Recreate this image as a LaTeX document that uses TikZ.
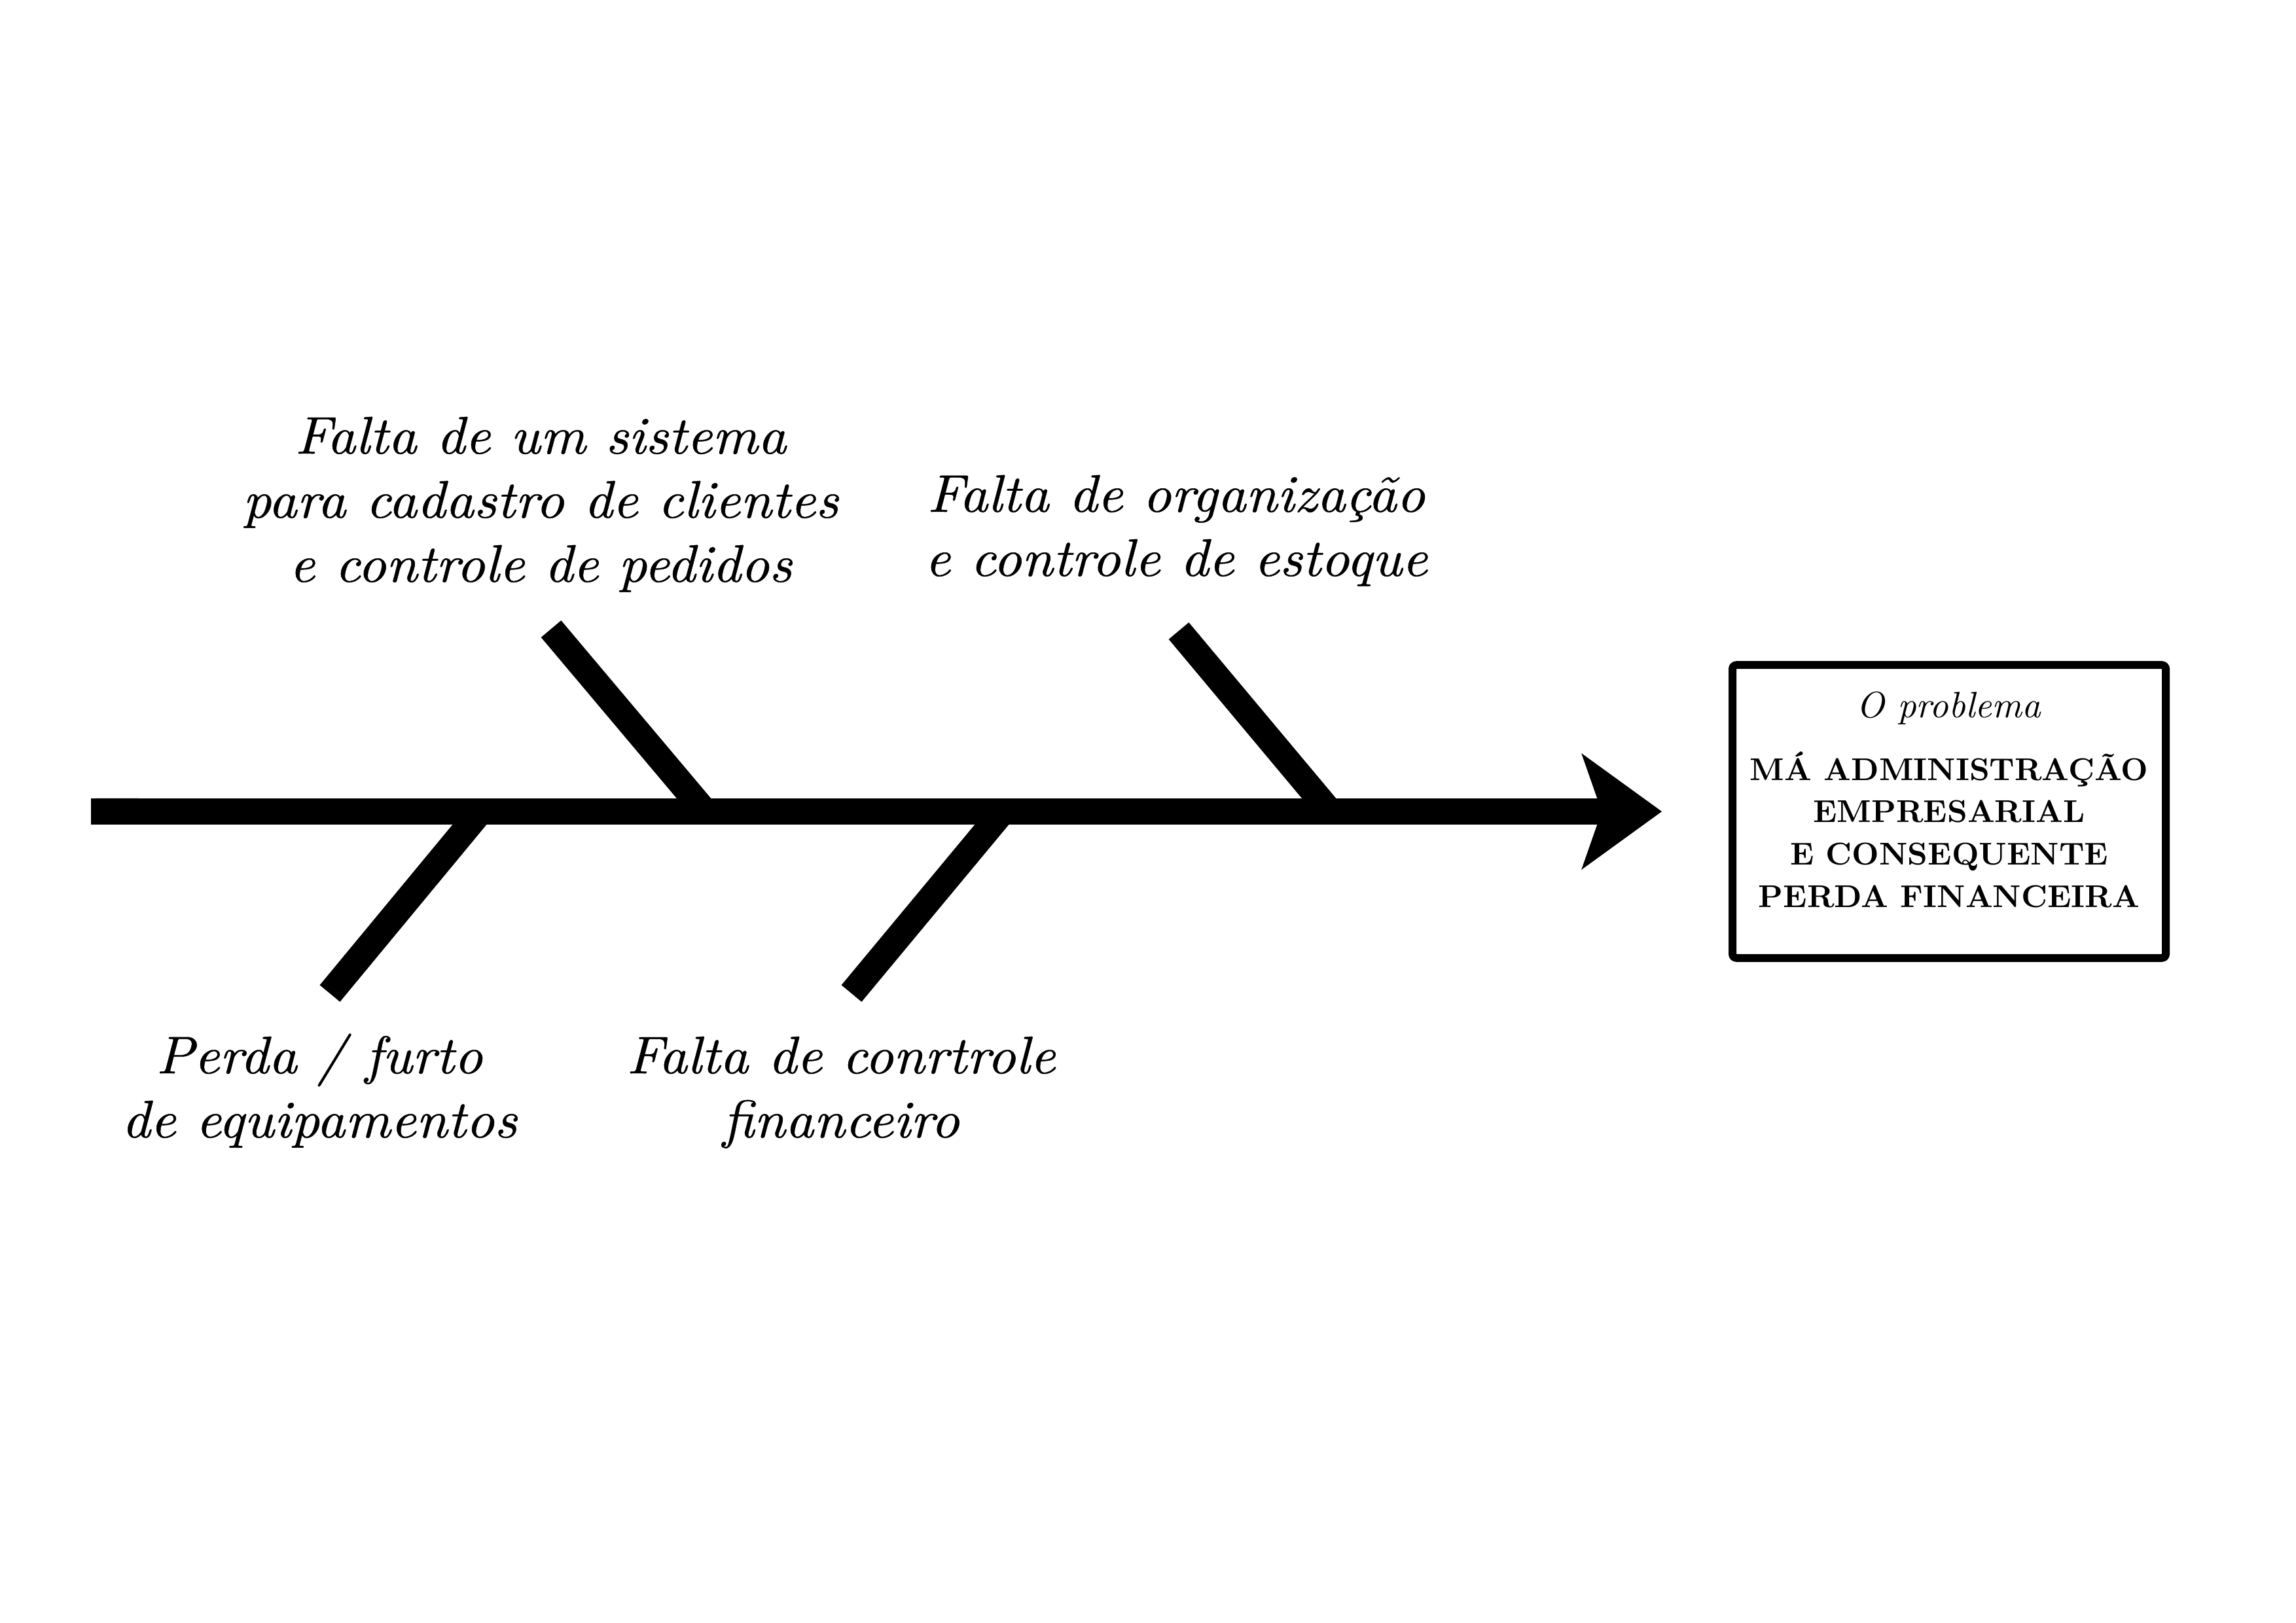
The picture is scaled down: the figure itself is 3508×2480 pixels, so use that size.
\documentclass[tikz,border=0pt]{standalone}
\usepackage{fontspec}
\setmainfont{lmroman10-regular.otf}[ItalicFont=lmroman10-italic.otf, BoldFont=lmroman10-bold.otf, BoldItalicFont=lmroman10-bolditalic.otf]
\newfontfamily\labfont{lmroman10-italic.otf}[FakeStretch=1.05, FakeBold=0.6]
\usetikzlibrary{arrows.meta}
\begin{document}
\begin{tikzpicture}[x=0.084667mm,y=-0.084667mm,
  bone/.style={line width=9.64pt, line cap=butt},
  spine/.style={line width=9.64pt, line cap=butt, -{Stealth[length=29.6pt,width=42.9pt,inset=7.5pt,round,line width=0pt]}},
  lab/.style={font=\fontsize{19.5pt}{23.6pt}\labfont, align=center, anchor=base, inner sep=0pt},
  boxtitle/.style={font=\fontsize{13.5pt}{16pt}\selectfont\itshape, anchor=base, inner sep=0pt},
  boxtext/.style={font=\fontsize{11.6pt}{15.54pt}\selectfont\bfseries, align=center, anchor=base, inner sep=0pt},
  problembox/.style={draw, line width=2.89pt, rounded corners=0.5mm, minimum width=56.05mm, minimum height=37.89mm, inner sep=0pt}
]
\useasboundingbox (0,0) rectangle (3508,2480);
% spine
\coordinate (tail) at (139,1240);
\coordinate (head) at (2539,1240);
% bones
\coordinate (b1s) at (1077,1240); \coordinate (b1e) at (842,961);
\coordinate (b2s) at (2032,1240); \coordinate (b2e) at (1801,964);
\coordinate (b3s) at (734,1240);  \coordinate (b3e) at (504,1518);
\coordinate (b4s) at (1532,1240); \coordinate (b4e) at (1301,1518);
\fill[rounded corners=0.68mm] (139,1220) rectangle (220,1260);
\draw[spine] (tail) -- (head);
\draw[bone] (b1s) -- (b1e);
\draw[bone] (b2s) -- (b2e);
\draw[bone] (b3s) -- (b3e);
\draw[bone] (b4s) -- (b4e);
% labels (anchor=base = baseline of last line)
\node[lab] (c1) at (826,889) {Falta de um sistema\\para cadastro de clientes\\e controle de pedidos};
\node[lab] (c2) at (1797,880) {Falta de organização\\e controle de estoque};
\node[lab] (c3) at (488,1738) {Perda / furto\\de equipamentos};
\node[lab] (c4) at (1285,1738) {Falta de conrtrole\\financeiro};
% problem box
\node[problembox] (problem) at (2978,1240) {};
\node[boxtitle] (ptitle) at (2977,1097) {O problema};
\node[boxtext] (ptext) at (2978,1386) {MÁ ADMINISTRAÇÃO\\EMPRESARIAL\\E CONSEQUENTE\\PERDA FINANCEIRA};
\end{tikzpicture}
\end{document}
